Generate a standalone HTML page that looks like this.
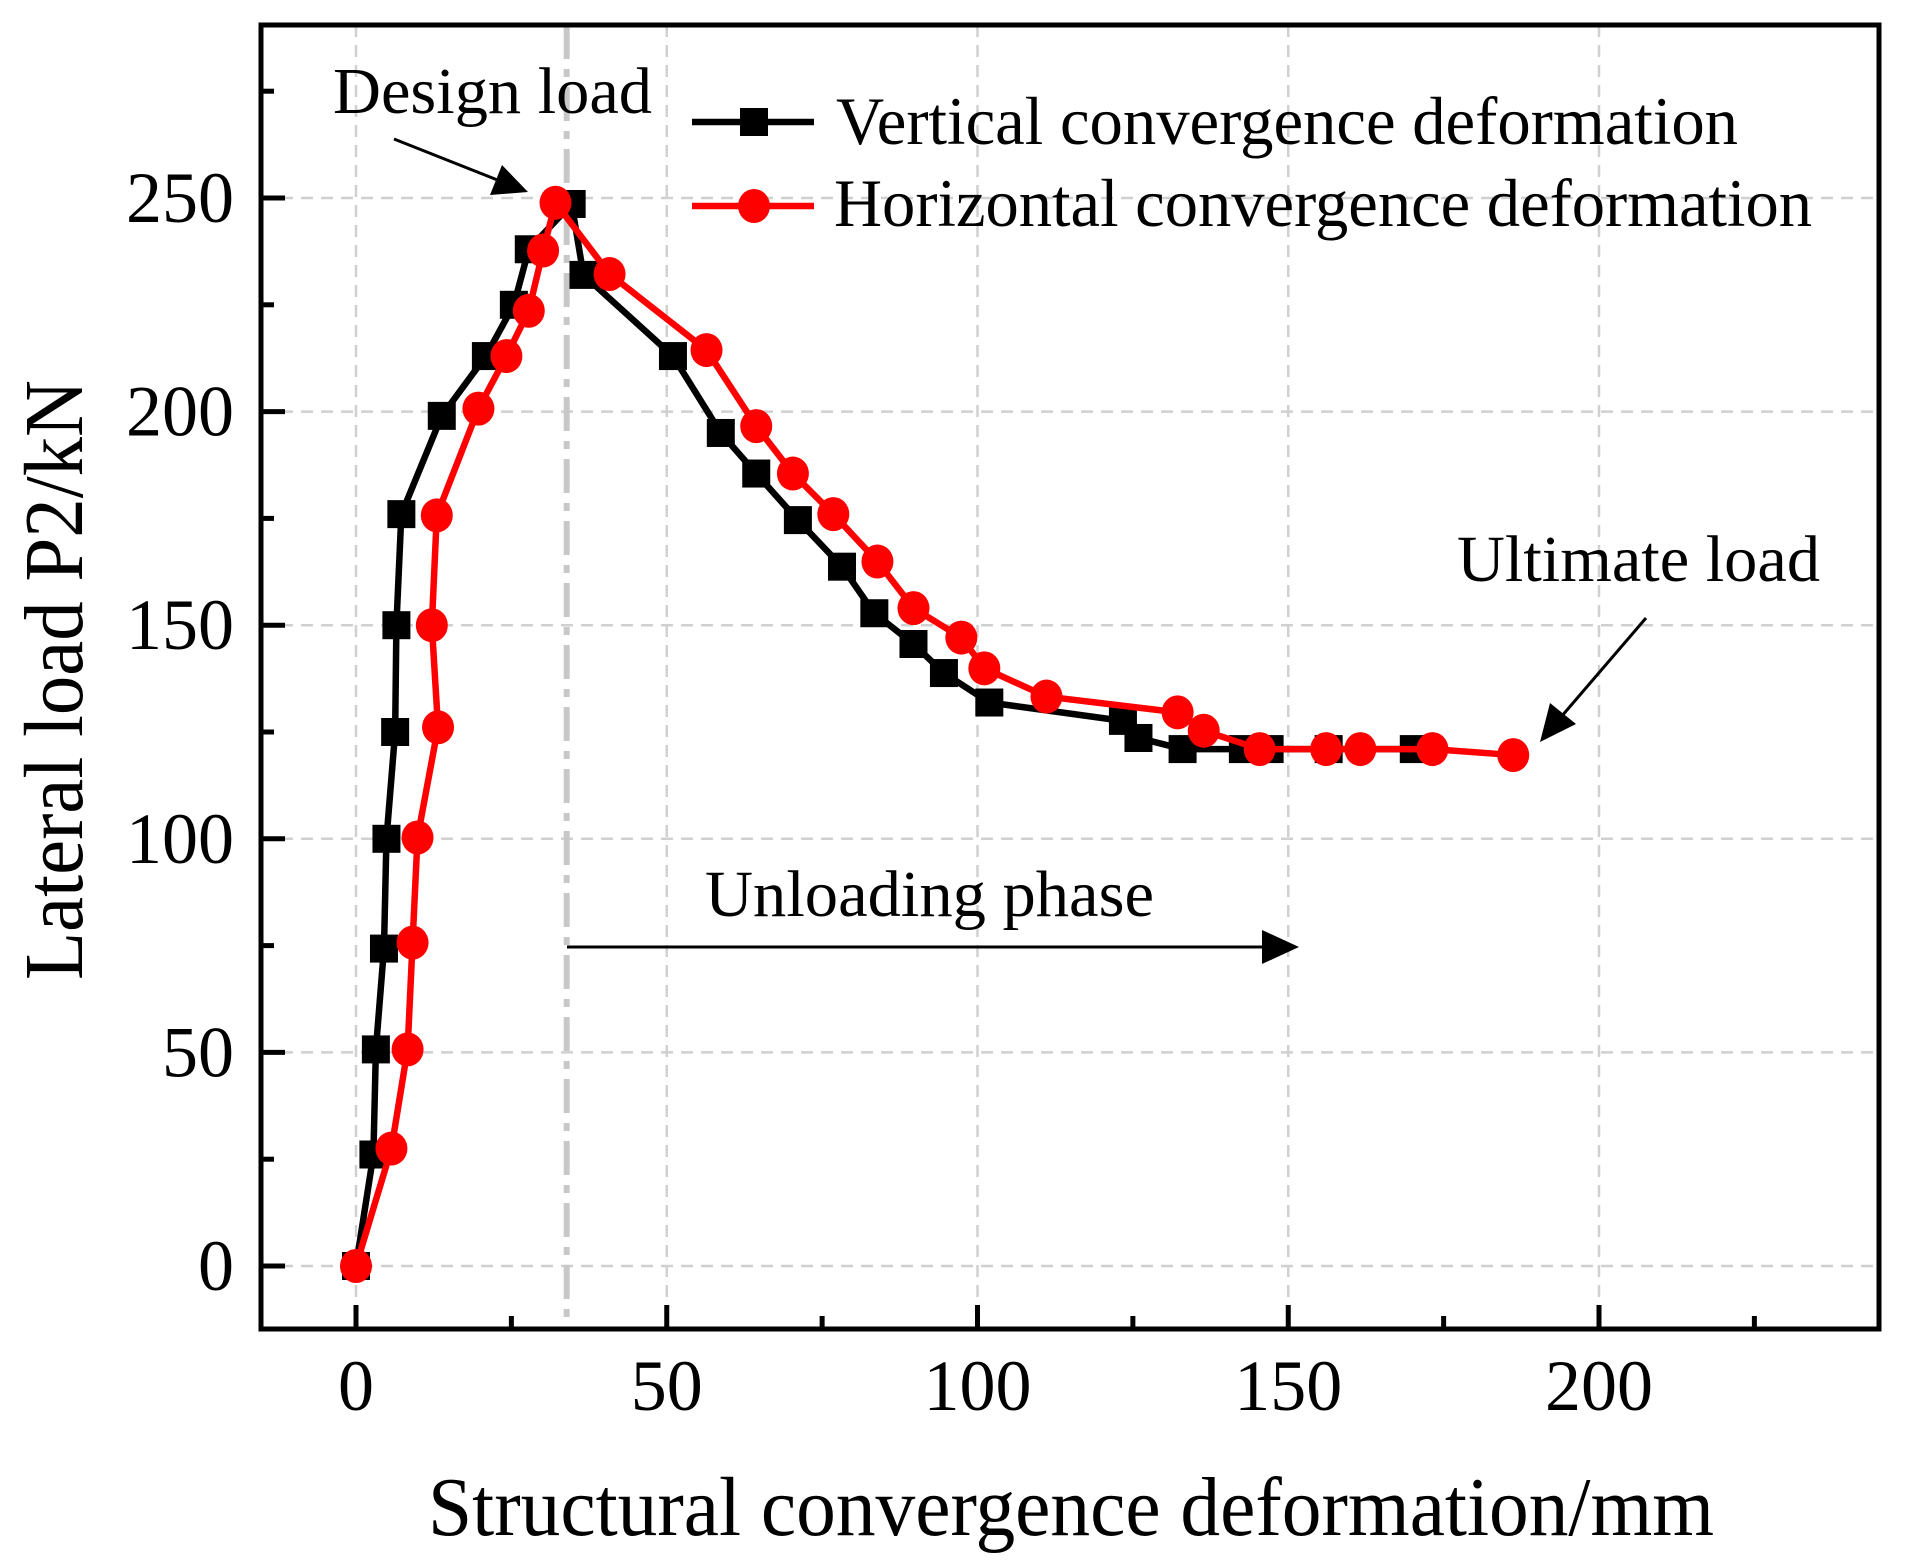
<!DOCTYPE html>
<html><head><meta charset="utf-8"><style>
html,body{margin:0;padding:0;background:#fff}
svg{display:block;font-family:"Liberation Serif","DejaVu Serif",serif}
</style></head><body>
<svg id="chart" width="1919" height="1562" viewBox="0 0 1919 1562" xmlns="http://www.w3.org/2000/svg">
<g id="grid"></g>
<g id="series"></g>
<g id="axes"></g>
<g id="annot">
<text x="333" y="113" font-size="66" textLength="319" lengthAdjust="spacingAndGlyphs">Design load</text>
<line x1="394" y1="139" x2="500" y2="181" stroke="#000" stroke-width="3"/>
<path d="M528,192 L502,165 L490,195 Z" fill="#000"/>
<text x="1457" y="581" font-size="66" textLength="363" lengthAdjust="spacingAndGlyphs">Ultimate load</text>
<line x1="1646" y1="618" x2="1555" y2="724" stroke="#000" stroke-width="3"/>
<path d="M1540,742 L1550,703 L1576,724 Z" fill="#000"/>
<text x="705" y="916" font-size="66" textLength="449" lengthAdjust="spacingAndGlyphs">Unloading phase</text>
<line x1="567" y1="947" x2="1270" y2="947" stroke="#000" stroke-width="3"/>
<path d="M1299,947 L1262,930 L1262,964 Z" fill="#000"/>
</g>
<g id="legend">
<g>
<line x1="692" y1="122" x2="814" y2="122" stroke="#000" stroke-width="6.5"/>
<rect x="740" y="108" width="28" height="28" fill="#000"/>
<text x="836" y="144" font-size="68" textLength="902" lengthAdjust="spacingAndGlyphs">Vertical convergence deformation</text>
</g>
<g>
<line x1="692" y1="206" x2="814" y2="206" stroke="#f00" stroke-width="6.5"/>
<ellipse cx="754" cy="206" rx="16" ry="17" fill="#f00"/>
<text x="834" y="226" font-size="68" textLength="978" lengthAdjust="spacingAndGlyphs">Horizontal convergence deformation</text>
</g>
</g>
<text x="428" y="1535" font-size="84" textLength="1286" lengthAdjust="spacingAndGlyphs">Structural convergence deformation/mm</text>
<text transform="translate(82,680) rotate(-90)" text-anchor="middle" font-size="84" textLength="600" lengthAdjust="spacingAndGlyphs">Lateral load P2/kN</text>
</svg>
<script>
const xTicks = [0, 50, 100, 150, 200];
const yTicks = [0, 50, 100, 150, 200, 250];
const designX = 33.9;
const vertX = [0, 2.8, 3.2, 4.5, 4.9, 6.3, 6.5, 7.3, 13.8, 20.9, 25.4, 27.8, 34.7, 36.6, 51, 58.7, 64.4, 71.1, 78.2, 83.4, 89.7, 94.6, 101.9, 123.4, 125.9, 133, 142.7, 147, 156.5, 170.2];
const vertY = [0, 26.1, 50.7, 74.3, 100, 125, 150, 176, 199, 213, 225, 238, 248.6, 232, 213, 195, 185.5, 174.6, 163.7, 152.8, 145.6, 138.8, 131.9, 127.6, 123.6, 121, 121, 121, 121, 121];
const horX = [0, 5.7, 8.3, 9.1, 9.9, 13.2, 12.2, 13, 19.7, 24.2, 27.8, 30.1, 32.1, 40.8, 56.4, 64.4, 70.3, 76.8, 83.9, 89.7, 97.4, 101.1, 111.1, 132.2, 136.4, 145.4, 156.1, 161.6, 173.2, 186.2];
const horY = [0, 27.5, 50.7, 75.7, 100.3, 126.1, 150, 175.7, 200.7, 213, 223.6, 237.7, 248.9, 232.2, 214.4, 196.6, 185.5, 176, 164.9, 154, 147.1, 139.9, 133.3, 129.6, 125.3, 121, 121, 121, 121, 119.6];

const NS = 'http://www.w3.org/2000/svg';
const L = 261, R = 1879, T = 25, B = 1329;
const X = v => 356 + v * 6.215;
const Y = v => 1266 - v * 4.272;
function mk(tag, attrs, parent) {
  const e = document.createElementNS(NS, tag);
  for (const k in attrs) e.setAttribute(k, attrs[k]);
  parent.appendChild(e);
  return e;
}
const grid = document.getElementById('grid');
xTicks.forEach(v => {
  const g = mk('line', {x1: X(v), x2: X(v), y1: T, y2: B, stroke: '#d0d0d0', 'stroke-width': 2.5, 'stroke-dasharray': '12 8'}, grid);
  
  
});
yTicks.forEach(v => {
  const g = mk('line', {x1: L, x2: R, y1: Y(v), y2: Y(v), stroke: '#d0d0d0', 'stroke-width': 2.5, 'stroke-dasharray': '12 8'}, grid);
  
  
});
const dl = mk('line', {x1: X(designX), x2: X(designX), y1: T, y2: B, stroke: '#c8c8c8', 'stroke-width': 6, 'stroke-dasharray': '34 10 8 10'}, grid);



const series = document.getElementById('series');
function drawSeries(xs, ys, color, shape, name) {
  const g = mk('g', {}, series);
  
  
  const pts = xs.map((x, i) => X(x) + ',' + Y(ys[i])).join(' ');
  const pl = mk('polyline', {points: pts, fill: 'none', stroke: color, 'stroke-width': 6.5, 'stroke-linejoin': 'round'}, g);
  
  
  xs.forEach((x, i) => {
    let m;
    if (shape === 'square') m = mk('rect', {x: X(x) - 14, y: Y(ys[i]) - 14, width: 28, height: 28, fill: color}, g);
    else m = mk('ellipse', {cx: X(x), cy: Y(ys[i]), rx: 16, ry: 17, fill: color}, g);
    
    
  });
}
drawSeries(vertX, vertY, '#000', 'square', 'vertical-series');
drawSeries(horX, horY, '#f00', 'circle', 'horizontal-series');

const axes = document.getElementById('axes');
const frame = mk('rect', {x: L, y: T, width: R - L, height: B - T, fill: 'none', stroke: '#000', 'stroke-width': 5}, axes);


for (let v = 0; v <= 225; v += 25) {
  const major = v % 50 === 0;
  const t = mk('line', {x1: X(v), x2: X(v), y1: B, y2: B - (major ? 24 : 13), stroke: '#000', 'stroke-width': 5}, axes);
  
  
}
for (let v = 0; v <= 275; v += 25) {
  const major = v % 50 === 0;
  const t = mk('line', {x1: L, x2: L + (major ? 24 : 13), y1: Y(v), y2: Y(v), stroke: '#000', 'stroke-width': 5}, axes);
  
  
}
xTicks.forEach(v => {
  const t = mk('text', {x: X(v), y: 1410, 'font-size': 72, 'text-anchor': 'middle'}, axes);
  t.textContent = v;
  
  
});
yTicks.forEach(v => {
  const t = mk('text', {x: 234, y: Y(v) + 24, 'font-size': 72, 'text-anchor': 'end'}, axes);
  t.textContent = v;
  
  
});
</script>
</body></html>
